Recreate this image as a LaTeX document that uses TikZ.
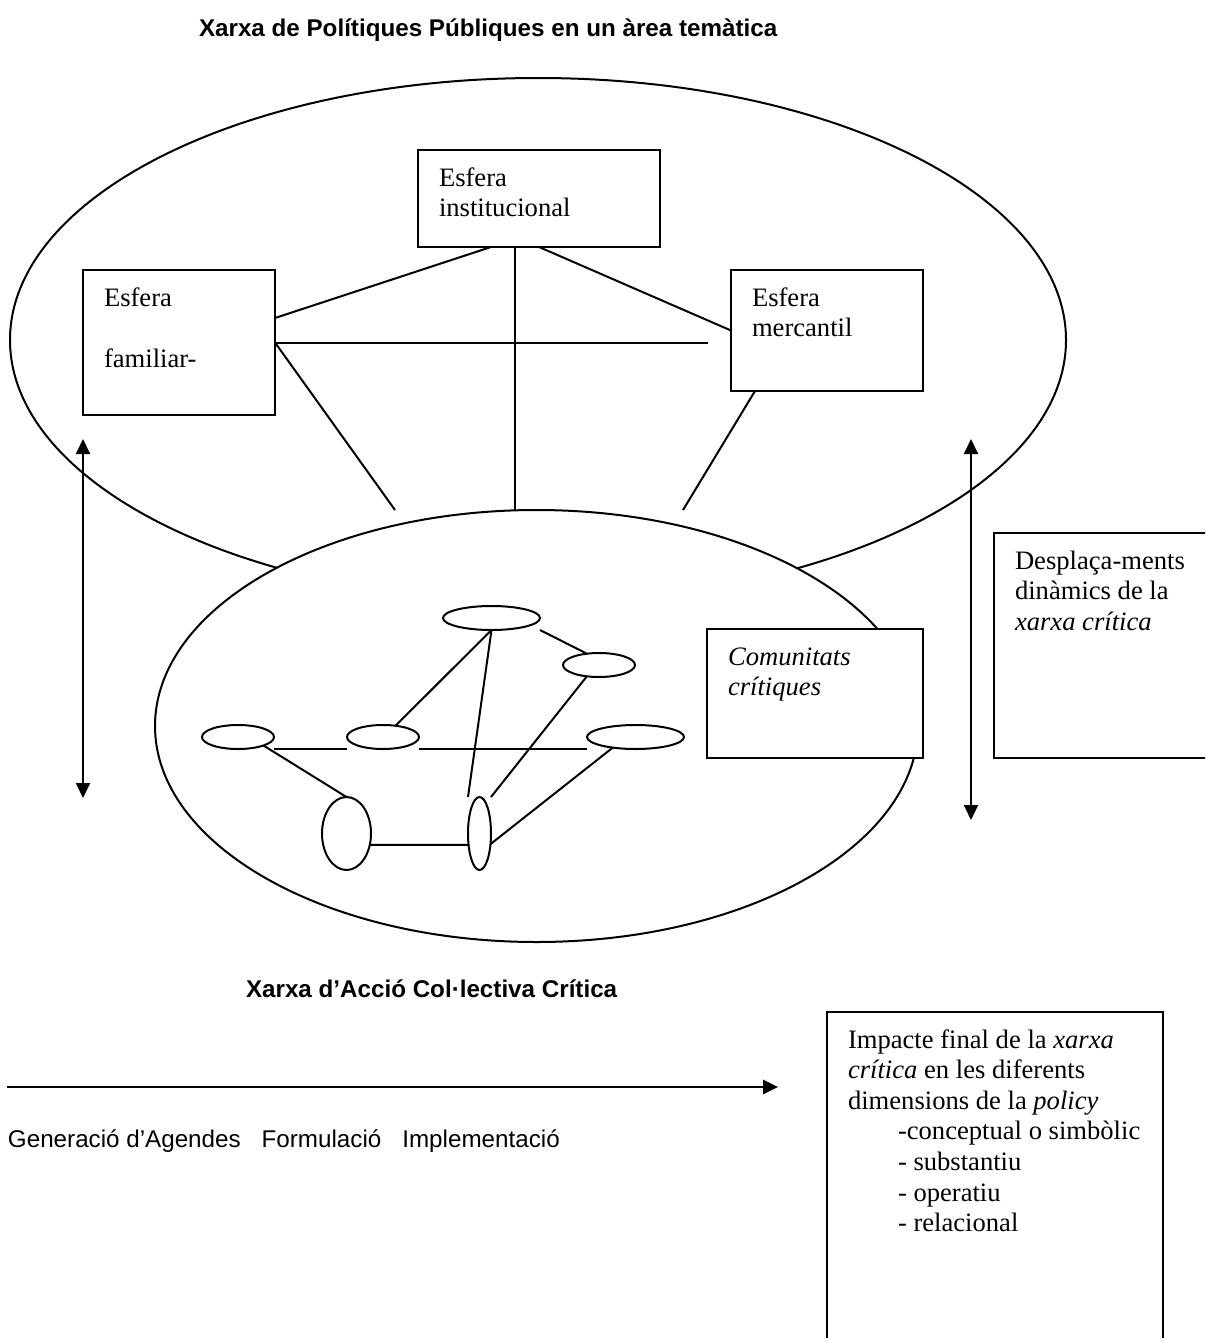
\documentclass[tikz,border=0pt]{standalone}
\usepackage{fontspec}
\setmainfont{Liberation Serif}
\setsansfont{Liberation Sans}
\usetikzlibrary{shapes.geometric,arrows.meta}

\begin{document}
\begin{tikzpicture}[
    x=1pt, y=-1pt,
    line width=2pt,
    >={Triangle[length=15pt,width=14pt]}
]


\tikzstyle{sphere}=[
    draw,
    rectangle,
    fill=white,
    anchor=north west,
    inner sep=0pt,
    outer sep=0pt
]
\tikzstyle{actor}=[
    draw,
    ellipse,
    inner sep=0pt,
    outer sep=0pt
]
\tikzstyle{boxtext}=[
    anchor=north west,
    inner sep=0pt,
    align=left,
    xshift=20pt,
    yshift=-13.6pt,
    font=\fontsize{26.6}{30.6}\selectfont
]
\tikzstyle{heading}=[
    anchor=base west,
    inner sep=0pt,
    font=\sffamily\bfseries\fontsize{24.2}{27.8}\selectfont
]
\tikzstyle{stagetext}=[
    anchor=base west,
    inner sep=0pt,
    font=\sffamily\fontsize{24.2}{27.8}\selectfont
]

\useasboundingbox (0,0) rectangle (1205,1338);
\clip (0,0) rectangle (1205,1338);


\node[actor, minimum width=1056pt, minimum height=524pt] (policy) at (538,340) {};
\node[actor, fill=white, minimum width=763pt, minimum height=432pt] (critica) at (536.5,726) {};


\node[sphere, minimum width=242pt, minimum height=97pt] (inst) at (418,150) {};
\node[sphere, minimum width=192pt, minimum height=145pt] (fam) at (83,270) {};
\node[sphere, minimum width=192pt, minimum height=121pt] (merc) at (731,270) {};

\node[boxtext] (insttext) at (inst.north west) {\strut Esfera\\institucional};
\node[boxtext] (famtext) at (fam.north west) {\strut Esfera\\[30.6pt]familiar-};
\node[boxtext] (merctext) at (merc.north west) {\strut Esfera\\mercantil};


\coordinate (famend) at (395,510);
\coordinate (mercend) at (683,510);

\draw ([xshift=-48pt]inst.south) -- ([yshift=-48pt]fam.north east);
\draw ([xshift=-24pt]inst.south) -- ([xshift=-24pt]inst.south |- critica.north);
\draw (inst.south) -- (merc.west);
\draw (fam.east) -- ([xshift=-23pt]merc.west |- fam.east);
\draw (fam.east) -- (famend);
\draw ([xshift=24pt]merc.south west) -- (mercend);


\node[actor, minimum width=97pt, minimum height=24pt] (c1) at (491.5,618) {};
\node[actor, minimum width=72pt, minimum height=24pt] (c2) at (599,665) {};
\node[actor, minimum width=72pt, minimum height=24pt] (c3) at (238,737) {};
\node[actor, minimum width=72pt, minimum height=24pt] (c4) at (383,737) {};
\node[actor, minimum width=97pt, minimum height=24pt] (c5) at (635.5,737) {};
\node[actor, minimum width=49pt, minimum height=73pt] (c6) at (346.5,833.5) {};
\node[actor, minimum width=23pt, minimum height=73pt] (c7) at (479.5,833.5) {};

\draw (c1.south) -- (c4.42);
\draw (c1.south) -- (c7.north -| c7.west);
\draw (c1.south -| c1.east) -- (c2.137);
\draw (c2.223) -- (c7.north -| c7.east);
\draw (c3.south -| c3.east) -- (c4.south -| c4.west);
\draw (c4.south -| c4.east) -- (c5.south -| c5.west);
\draw (c3.south east) -- (c6.north);
\draw (c5.-155) -- (c7.-44);
\draw (c6.-26) -- (c7.226);


\node[sphere, minimum width=216pt, minimum height=129pt] (comm) at (707,629) {};
\node[sphere, minimum width=260pt, minimum height=225pt] (shift) at (994,533) {};
\node[sphere, minimum width=336pt, minimum height=400pt] (impact) at (827,1012) {};

\node[boxtext] (commtext) at (comm.north west) {\strut\textit{Comunitats}\\\textit{crítiques}};
\node[boxtext] (shifttext) at (shift.north west) {\strut Desplaça-ments\\dinàmics de la\\\textit{xarxa crítica}};
\node[boxtext] (impacttext) at (impact.north west) {\strut Impacte final de la \textit{xarxa}\\
    \textit{crítica} en les diferents\\
    dimensions de la \textit{policy}\\
    \hspace*{50pt}-conceptual o simbòlic\\
    \hspace*{50pt}- substantiu\\
    \hspace*{50pt}- operatiu\\
    \hspace*{50pt}- relacional};


\coordinate (lefttop) at (83,439);
\coordinate (leftbot) at (83,798);
\coordinate (righttop) at (971,439);
\coordinate (rightbot) at (971,820);
\coordinate (stagestart) at (7,1087);
\coordinate (stageend) at (778,1087);

\draw[<->] (lefttop) -- (leftbot);
\draw[<->] (righttop) -- (rightbot);
\draw[->, line width=2.7pt] (stagestart) -- (stageend);


\node[heading] (policytitle) at (198,37) {Xarxa de Polítiques Públiques en un àrea temàtica};
\node[heading] (criticatitle) at (245,997) {Xarxa d’Acció Col·lectiva Crítica};
\node[stagetext] (stages) at (7,1147) {Generació d’Agendes\hspace{21pt}Formulació\hspace{21pt}Implementació};

\end{tikzpicture}
\end{document}
